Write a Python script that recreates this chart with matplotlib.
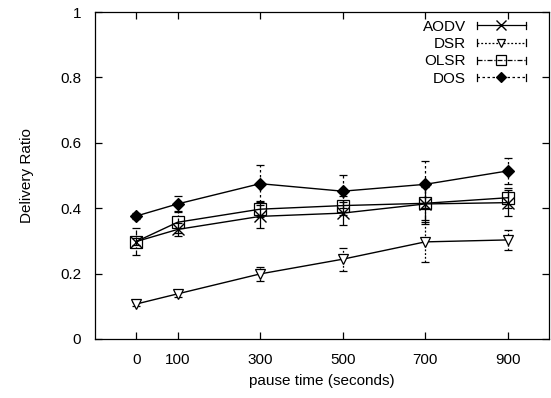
import matplotlib
matplotlib.use("Agg")
import matplotlib.pyplot as plt
from matplotlib.legend_handler import HandlerBase
from matplotlib.lines import Line2D

plt.rcParams['font.family'] = ['Liberation Sans', 'DejaVu Sans']

pause = [0, 100, 300, 500, 700, 900]
series_names = ["AODV", "DSR", "OLSR", "DOS"]
aodv = [0.298, 0.335, 0.375, 0.385, 0.413, 0.417]
aodv_err = [0.01, 0.02, 0.035, 0.035, 0.06, 0.04]
dsr = [0.107, 0.138, 0.199, 0.244, 0.297, 0.303]
dsr_err = [0.005, 0.01, 0.022, 0.035, 0.06, 0.03]
olsr = [0.298, 0.357, 0.397, 0.408, 0.415, 0.432]
olsr_err = [0.04, 0.032, 0.025, 0.03, 0.05, 0.03]
dos = [0.376, 0.413, 0.475, 0.452, 0.473, 0.514]
dos_err = [0.01, 0.023, 0.057, 0.05, 0.072, 0.04]

xticks = [0, 100, 300, 500, 700, 900]
yticks = [0, 0.2, 0.4, 0.6, 0.8, 1]

styles = {
    "AODV": dict(marker='x', mfc='none', ls='-', ms=8.5, mew=1.0),
    "DSR": dict(marker='v', mfc='white', ls=(0, (1.5, 1.5)), ms=7.5, mew=0.9),
    "OLSR": dict(marker='s', mfc='none', ls=(0, (4, 1.5, 1, 1.5)), ms=8.5, mew=0.9),
    "DOS": dict(marker='D', mfc='black', ls=(0, (2, 2)), ms=6, mew=0.9),
}
data = {"AODV": (aodv, aodv_err), "DSR": (dsr, dsr_err),
        "OLSR": (olsr, olsr_err), "DOS": (dos, dos_err)}

fig = plt.figure(figsize=(5.51, 3.98), dpi=100)
ax = fig.add_axes([95/551, 1-339/398, (549-95)/551, (339-12)/398])

for name in series_names:
    y, e = data[name]
    st = styles[name]
    ax.plot(pause, y, color='black', lw=1.0, ls='-', zorder=2)
    eb = ax.errorbar(pause, y, yerr=e, fmt='none', ecolor='black', elinewidth=0.9,
                     capsize=3, capthick=0.9, zorder=1)
    for lc in eb[2]:
        lc.set_linestyle(st['ls'])
    ax.plot(pause, y, ls='none', marker=st['marker'], mfc=st['mfc'], mec='black',
            ms=st['ms'], mew=st['mew'], zorder=3)


class HandlerErr(HandlerBase):
    def __init__(self, st):
        super().__init__()
        self.st = st

    def create_artists(self, legend, orig_handle, xdescent, ydescent, width, height, fontsize, trans):
        st = self.st
        yc = height / 2 - ydescent
        x0, x1 = -xdescent, width - xdescent
        line = Line2D([x0, x1], [yc, yc], color='black', lw=0.9, ls=st['ls'], transform=trans)
        cap0 = Line2D([x0, x0], [yc - 2.5, yc + 2.5], color='black', lw=0.9, transform=trans)
        cap1 = Line2D([x1, x1], [yc - 2.5, yc + 2.5], color='black', lw=0.9, transform=trans)
        mk = Line2D([(x0 + x1) / 2], [yc], ls='none', marker=st['marker'], mfc=st['mfc'],
                    mec='black', ms=st['ms'] * 0.85, mew=st['mew'], transform=trans)
        return [line, cap0, cap1, mk]


handles = [Line2D([], []) for _ in series_names]
hmap = {h: HandlerErr(styles[n]) for h, n in zip(handles, series_names)}
leg = ax.legend(handles, series_names, handler_map=hmap, loc='upper right',
                frameon=False, markerfirst=False, fontsize=11, handlelength=3.2,
                labelspacing=0.22, handletextpad=0.7, borderaxespad=0.0,
                bbox_to_anchor=(0.962, 0.995))

ax.set_xlim(-100, 1000)
ax.set_ylim(0, 1)
ax.set_xticks(xticks)
ax.set_yticks(yticks)
ax.set_yticklabels([f"{v:g}" for v in yticks])
ax.tick_params(direction='in', top=True, right=True, length=5, width=0.9, labelsize=11)
ax.tick_params(axis='y', pad=10)
ax.tick_params(axis='x', pad=10)
for s in ax.spines.values():
    s.set_linewidth(0.9)
ax.set_xlabel("pause time (seconds)", fontsize=11, labelpad=5)
ax.set_ylabel("Delivery Ratio", fontsize=11, labelpad=19)

fig.savefig("out.png", dpi=100)
